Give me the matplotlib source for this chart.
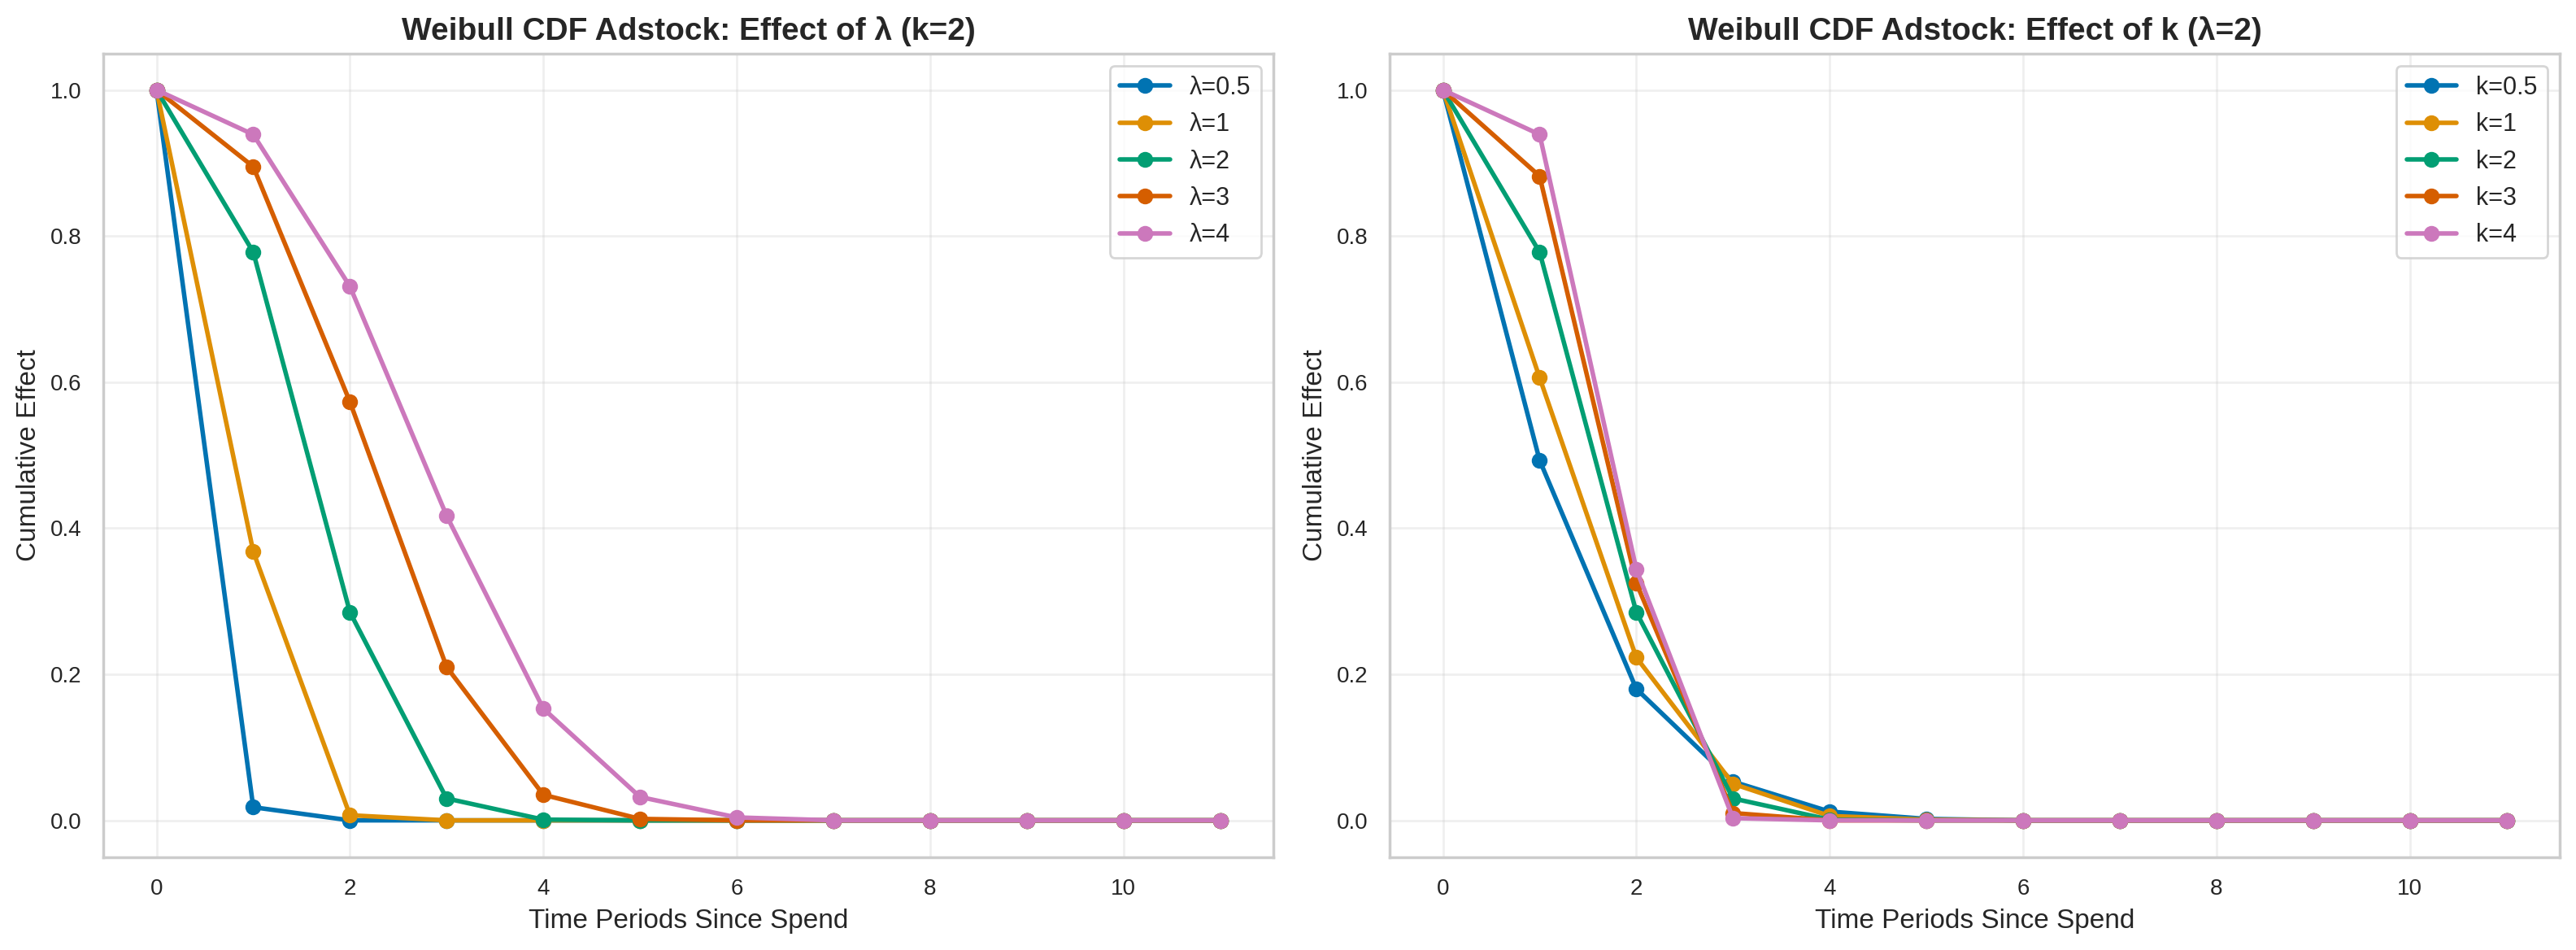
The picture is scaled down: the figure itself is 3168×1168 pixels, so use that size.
import matplotlib
matplotlib.use("Agg")
import matplotlib.pyplot as plt
import numpy as np
import seaborn as sns

sns.set_theme(style="whitegrid")
plt.rcParams["font.family"] = ["Liberation Sans", "DejaVu Sans"]
colors = sns.color_palette("colorblind")

t = np.arange(12)

# effect of lambda (k=2)
lam_labels = ["λ=0.5", "λ=1", "λ=2", "λ=3", "λ=4"]
lam_values = [
    [1.0, 0.018, 0.0, 0.0, 0.0, 0.0, 0.0, 0.0, 0.0, 0.0, 0.0, 0.0],
    [1.0, 0.368, 0.007, 0.0, 0.0, 0.0, 0.0, 0.0, 0.0, 0.0, 0.0, 0.0],
    [1.0, 0.778, 0.285, 0.030, 0.001, 0.0, 0.0, 0.0, 0.0, 0.0, 0.0, 0.0],
    [1.0, 0.895, 0.573, 0.210, 0.035, 0.002, 0.0, 0.0, 0.0, 0.0, 0.0, 0.0],
    [1.0, 0.939, 0.731, 0.417, 0.153, 0.032, 0.004, 0.0, 0.0, 0.0, 0.0, 0.0],
]

# effect of k (lambda=2)
k_labels = ["k=0.5", "k=1", "k=2", "k=3", "k=4"]
k_values = [
    [1.0, 0.493, 0.180, 0.053, 0.012, 0.002, 0.0, 0.0, 0.0, 0.0, 0.0, 0.0],
    [1.0, 0.606, 0.223, 0.050, 0.006, 0.001, 0.0, 0.0, 0.0, 0.0, 0.0, 0.0],
    [1.0, 0.778, 0.285, 0.030, 0.001, 0.0, 0.0, 0.0, 0.0, 0.0, 0.0, 0.0],
    [1.0, 0.882, 0.325, 0.010, 0.0, 0.0, 0.0, 0.0, 0.0, 0.0, 0.0, 0.0],
    [1.0, 0.939, 0.344, 0.003, 0.0, 0.0, 0.0, 0.0, 0.0, 0.0, 0.0, 0.0],
]

fig, axs = plt.subplots(1, 2, figsize=(16, 6), dpi=200)

panels = [
    (axs[0], lam_labels, lam_values, "Weibull CDF Adstock: Effect of λ (k=2)"),
    (axs[1], k_labels, k_values, "Weibull CDF Adstock: Effect of k (λ=2)"),
]

for ax, labels, values, title in panels:
    for i, (lab, vals) in enumerate(zip(labels, values)):
        ax.plot(t, vals, marker="o", linewidth=2, markersize=6, color=colors[i], label=lab)
    ax.set_title(title, fontsize=14, fontweight="bold")
    ax.set_xlabel("Time Periods Since Spend", fontsize=12)
    ax.set_ylabel("Cumulative Effect", fontsize=12)
    ax.tick_params(labelsize=10)
    ax.grid(True, alpha=0.3)
    ax.legend(fontsize=11)

plt.tight_layout()
fig.savefig("out.png", dpi=200, bbox_inches="tight")
